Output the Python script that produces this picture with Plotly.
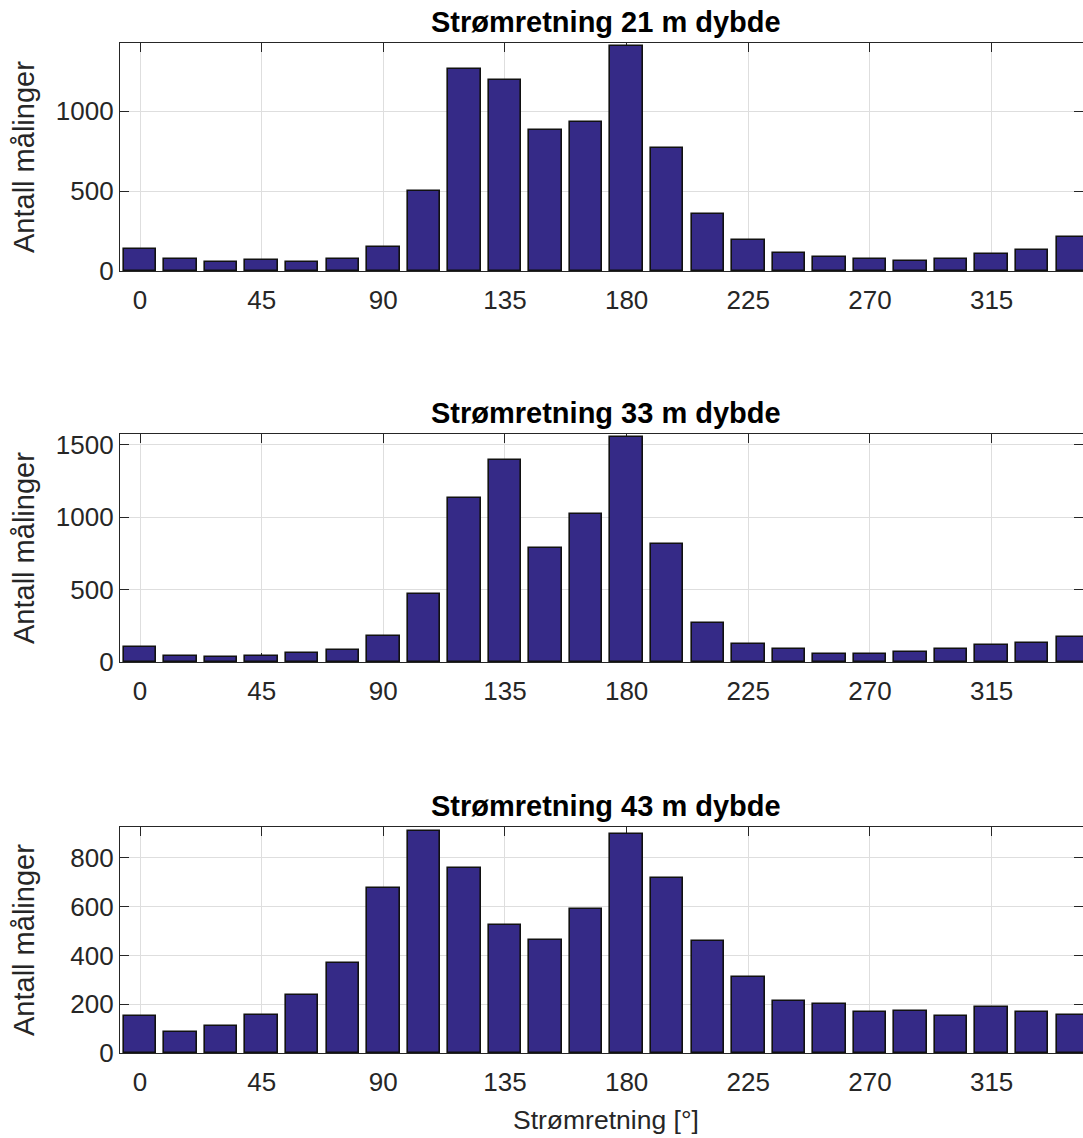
import plotly.graph_objects as go
from plotly.subplots import make_subplots

# bin centres (degrees) and counts
directions = [0, 15, 30, 45, 60, 75, 90, 105, 120, 135, 150, 165,
              180, 195, 210, 225, 240, 255, 270, 285, 300, 315, 330, 345]

depth21 = [137, 73, 54, 69, 59, 77, 152, 500, 1261, 1192, 879, 929,
           1404, 771, 359, 196, 115, 86, 75, 65, 75, 109, 134, 215]
depth33 = [107, 44, 35, 44, 62, 86, 180, 473, 1136, 1395, 790, 1023,
           1551, 813, 266, 127, 88, 53, 53, 69, 90, 116, 134, 173]
depth43 = [150, 86, 112, 154, 238, 368, 675, 909, 757, 523, 463, 591,
           898, 717, 458, 312, 214, 202, 168, 173, 150, 188, 169, 155]

titles = ["Strømretning 21 m dybde", "Strømretning 33 m dybde", "Strømretning 43 m dybde"]
series = [depth21, depth33, depth43]
ymax = [1425, 1575, 927]
ystep = [500, 500, 200]
xticks = [0, 45, 90, 135, 180, 225, 270, 315]

W, H = 1083, 1138
# axes boxes in pixels (top, bottom)
boxes = [(43, 271), (434, 662), (827, 1053)]
left = 120

fig = make_subplots(rows=3, cols=1)

axcol = "#262626"
for i, (vals, box) in enumerate(zip(series, boxes)):
    r = i + 1
    fig.add_trace(go.Bar(x=directions, y=vals, width=12,
                         marker=dict(color="#352a87", line=dict(color="#111111", width=1.6)),
                         showlegend=False), row=r, col=1)
    dom = [1 - box[1] / H, 1 - box[0] / H]
    fig.update_xaxes(domain=[left / W, 1], range=[-7.4, 348.8], tickvals=xticks,
                     ticks="inside", ticklen=9, tickcolor=axcol, showline=True,
                     linecolor=axcol, linewidth=1.3, mirror="ticks",
                     showgrid=True, gridcolor="#dedede", gridwidth=1,
                     zeroline=False, layer="below traces", automargin=False,
                     tickfont=dict(family="Liberation Sans", size=26, color=axcol),
                     ticklabelstandoff=6,
                     row=r, col=1)
    fig.update_yaxes(domain=dom, range=[0, ymax[i]], dtick=ystep[i], tick0=0,
                     ticks="inside", ticklen=9, tickcolor=axcol, showline=True,
                     linecolor=axcol, linewidth=1.3, mirror="ticks",
                     showgrid=True, gridcolor="#dedede", gridwidth=1,
                     zeroline=False, layer="below traces", automargin=False,
                     tickfont=dict(family="Liberation Sans", size=26, color=axcol),
                     row=r, col=1)
    fig.add_annotation(text="<b>" + titles[i] + "</b>", xref="paper", yref="paper",
                       x=606 / W, y=1 - (box[0] - 3) / H, xanchor="center", yanchor="bottom",
                       showarrow=False,
                       font=dict(family="Liberation Sans", size=29, color="black"))
    fig.add_annotation(text="Antall målinger", xref="paper", yref="paper",
                       x=24 / W, y=1 - (box[0] + box[1]) / 2 / H, xanchor="center",
                       yanchor="middle", textangle=-90, showarrow=False,
                       font=dict(family="Liberation Sans", size=29, color=axcol))

fig.add_annotation(text="Strømretning [°]", xref="paper", yref="paper",
                   x=606 / W, y=1 - 1120 / H, xanchor="center", yanchor="middle",
                   showarrow=False,
                   font=dict(family="Liberation Sans", size=26.5, color=axcol))

fig.update_layout(width=W, height=H, margin=dict(l=0, r=0, t=0, b=0, autoexpand=False),
                  plot_bgcolor="white", paper_bgcolor="white", bargap=0)

page_fix = ("document.documentElement.style.margin='0';"
            "document.body.style.margin='0';")

fig.write_html("out.html", config={"displayModeBar": False}, post_script=page_fix)
